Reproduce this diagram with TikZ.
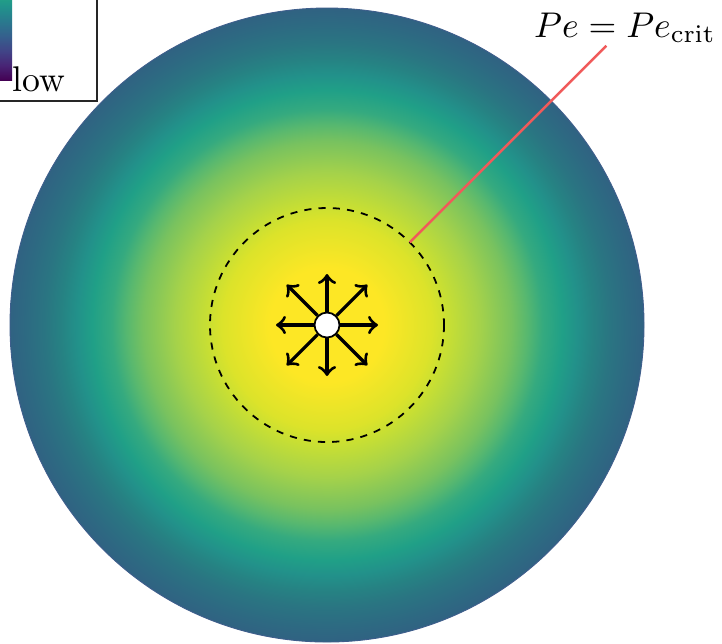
\documentclass[tikz,border=0pt]{standalone}
\usetikzlibrary{calc}
% disk colours (centre -> edge)
\definecolor{ca}{HTML}{FDE725}
\definecolor{cb}{HTML}{DCE32A}
\definecolor{cc}{HTML}{C8DF33}
\definecolor{cd}{HTML}{A5D24A}
\definecolor{ce}{HTML}{78C25F}
\definecolor{cf}{HTML}{58B86F}
\definecolor{cg}{HTML}{35AA7F}
\definecolor{ch}{HTML}{20A087}
\definecolor{ci}{HTML}{22918A}
\definecolor{cj}{HTML}{268283}
\definecolor{ck}{HTML}{2A7582}
\definecolor{cl}{HTML}{2D6A82}
\definecolor{cm}{HTML}{306282}
\definecolor{rimc}{HTML}{3F5E8C}
% viridis for the colour bar
\definecolor{va}{HTML}{440154}
\definecolor{vb}{HTML}{482475}
\definecolor{vc}{HTML}{414487}
\definecolor{vd}{HTML}{355F8D}
\definecolor{ve}{HTML}{2A788E}
\definecolor{vf}{HTML}{21918C}
\definecolor{vg}{HTML}{22A884}
\definecolor{vh}{HTML}{44BF70}
\definecolor{vi}{HTML}{7AD151}
\definecolor{vj}{HTML}{BDDF26}
\definecolor{vk}{HTML}{FDE725}
\definecolor{pecol}{HTML}{F05A5A}
\pgfdeclareradialshading{conc}{\pgfpoint{0bp}{0bp}}{%
color(0bp)=(ca); color(4.5bp)=(ca); color(8.25bp)=(cb); color(9.5bp)=(cc);
color(12bp)=(cd); color(14.5bp)=(ce); color(15.75bp)=(cf); color(17bp)=(cg);
color(18.5bp)=(ch); color(19.75bp)=(ci); color(21bp)=(cj); color(22.25bp)=(ck);
color(23.75bp)=(cl); color(25bp)=(cm); color(50bp)=(cm)}
\pgfdeclareverticalshading{cbar}{100bp}{%
color(0bp)=(va); color(25bp)=(va); color(30bp)=(vb); color(35bp)=(vc);
color(40bp)=(vd); color(45bp)=(ve); color(50bp)=(vf); color(55bp)=(vg);
color(60bp)=(vh); color(65bp)=(vi); color(70bp)=(vj); color(75bp)=(vk); color(100bp)=(vk)}
\tikzset{
  arr/.style={->, line width=0.9pt, black},
  critline/.style={dash pattern=on 2pt off 2pt, line width=0.5pt, black},
  pointer/.style={pecol, line width=0.7pt},
  legendbox/.style={draw=black!85, fill=white, line width=0.6pt},
  srcnode/.style={circle, draw=black, fill=white, line width=0.5pt, minimum size=7pt, inner sep=0pt}
}
\begin{document}
\begin{tikzpicture}[x=0.28pt,y=-0.28pt]
\useasboundingbox (0,0) rectangle (722,643);
\coordinate (c) at (327,325);
% concentration field
\shade[shading=conc] (c) circle[radius=317];
\draw[rimc, line width=0.25pt] (c) circle[radius=317];
% critical Peclet circle
\draw[critline] (c) circle[radius=117];
% source and radial arrows
\node[srcnode] (src) at (c) {};
\foreach \a/\l in {0/51,45/57,90/51,135/57,180/51,225/57,270/51,315/57}{
  \draw[arr] (src) -- ($(c)+(\a:\l)$);
}
% pointer to the critical circle
\coordinate (pa) at ($(c)+(-45:117)$);
\coordinate (pb) at ($(c)+(-45:395)$);
\draw[pointer] (pa) -- (pb);
\node[anchor=base, inner sep=0pt] (pelabel) at (625,37) {$Pe = Pe_{\mathrm{crit}}$};
% legend
\draw[legendbox] (-60,-60) rectangle (97,101);
\shade[shading=cbar] (-6,-65) rectangle (12,80);
\node[anchor=base west, inner sep=0pt] (low) at (12,91) {low};
\end{tikzpicture}
\end{document}
